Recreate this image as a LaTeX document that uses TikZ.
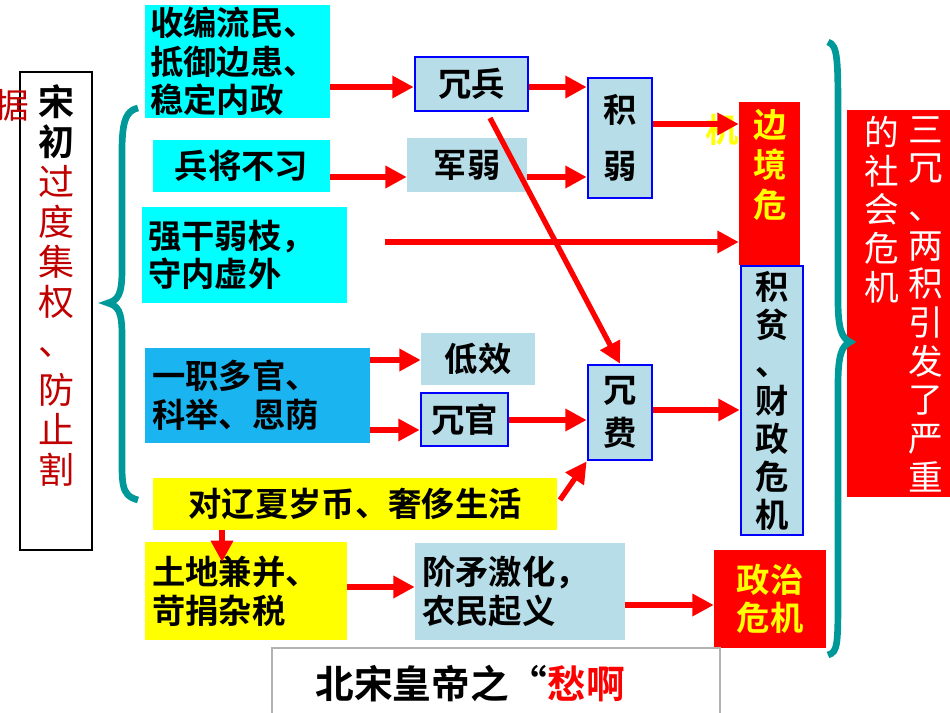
\documentclass[tikz,border=0pt]{standalone}
\usepackage{fontspec}
\setmainfont{Noto Sans CJK SC}[BoldFont={Noto Sans CJK SC Bold}]
\usetikzlibrary{arrows.meta}
\definecolor{cy}{HTML}{00FFFF}
\definecolor{sky}{HTML}{1AB4F0}
\definecolor{lb}{HTML}{B7DDE8}
\definecolor{rd}{HTML}{FF0000}
\definecolor{dr}{HTML}{C00000}
\definecolor{yl}{HTML}{FFFF00}
\definecolor{tl}{HTML}{009999}
\tikzset{
 bx/.style={inner sep=0pt,font=\fontsize{25}{29}\selectfont\bfseries,align=left},
 arr/.style={draw=rd,line width=4pt,-{Triangle[length=16pt,width=16pt]}}
}
\begin{document}
\begin{tikzpicture}[x=0.75pt,y=-0.75pt]
\useasboundingbox (0,0) rectangle (950,713);
\tikzset{box/.style args={#1/#2/#3/#4}{inner sep=0pt,minimum width={(#3-#1)*0.75pt},minimum height={(#4-#2)*0.75pt}}}
% boxes
\node[box=145/5/330/118,fill=cy] (A) at (237.5,61.5) {};
\node[bx,anchor=west] at (150,61.5) {收编流民、\\抵御边患、\\稳定内政};
\node[box=415/57/528/111,fill=lb,draw=blue,line width=2pt] (B) at (471.5,84) {};
\node[bx] at (B) {冗兵};
\node[box=588/78/652/198,fill=lb,draw=blue,line width=2pt] (C) at (620,138) {};
\node[bx,align=center,font=\fontsize{25}{42}\selectfont\bfseries] at (C) {积\\弱};
\node[box=153/140/330/192,fill=cy] (D) at (241.5,166) {};
\node[bx] at (D) {兵将不习};
\node[box=407/138/527/192,fill=lb] (E) at (467,165) {};
\node[bx] at (E) {军弱};
\node[box=142/207/347/303,fill=cy] (F) at (244.5,255) {};
\node[bx,anchor=west] at (148,255) {强干弱枝，\\守内虚外};
\node[box=739/102/800/265,fill=rd] (G) at (769.5,183.5) {};
\node[bx,align=center,text=yl,font=\fontsize{25}{30}\selectfont\bfseries] at (770,165) {边\\境\\危};
\node[bx,text=yl] (G2) at (722,130) {机};
\node[box=741/266/803/535,fill=lb,draw=blue,line width=2pt] (H) at (772,400.5) {};
\node[bx,align=center,font=\fontsize{25}{28.5}\selectfont\bfseries] at (H) {积\\贫\\、\\财\\政\\危\\机};
\node[box=145/348/370/443,fill=sky] (I) at (257.5,395.5) {};
\node[bx,anchor=west] at (152,395.5) {一职多官、\\科举、恩荫};
\node[box=421/333/535/385,fill=lb] (J) at (478,359) {};
\node[bx] at (J) {低效};
\node[box=421/393/508/446,fill=lb,draw=blue,line width=2pt] (K) at (464.5,419.5) {};
\node[bx] at (K) {冗官};
\node[box=588/365/652/460,fill=lb,draw=blue,line width=2pt] (L) at (620,412.5) {};
\node[bx,align=center,font=\fontsize{25}{32}\selectfont\bfseries] at (L) {冗\\费};
\node[box=153/478/557/530,fill=yl] (M) at (355,504) {};
\node[bx] at (M) {对辽夏岁币、奢侈生活};
\node[box=145/542/347/640,fill=yl] (N) at (246,591) {};
\node[bx,anchor=west] at (152,591) {土地兼并、\\苛捐杂税};
\node[box=415/543/625/640,fill=lb] (O) at (520,591.5) {};
\node[bx,anchor=west] at (422,591.5) {阶矛激化，\\农民起义};
\node[box=714/550/826/648,fill=rd] (P) at (770,599) {};
\node[bx,text=yl,align=center] at (P) {政治\\危机};
\node[box=272/648/720/720,fill=white,draw=gray!60,line width=1pt] (Q) at (496,684) {};
\node[bx,font=\fontsize{29}{33}\selectfont\bfseries] at (470,684) {北宋皇帝之“\textcolor{rd}{愁啊}};
\node[box=847/110/950/497,fill=rd] (S) at (898.5,303.5) {};
\node[align=center,text=white,font=\fontsize{26}{29}\selectfont,anchor=north,inner sep=0pt] at (926,116) {三\\冗\\、\\两\\积\\引\\发\\了\\严\\重};
\node[align=center,text=white,font=\fontsize{26}{29}\selectfont,anchor=north,inner sep=0pt] at (882,116) {的\\社\\会\\危\\机};
\node[box=20/72/92/550,draw=black,line width=1.5pt] (T) at (56,311) {};
\node[align=center,font=\fontsize{27}{30}\selectfont\bfseries,anchor=north,inner sep=0pt] at (56,84) {宋\\初\\\textcolor{dr}{\mdseries 过}\\\textcolor{dr}{\mdseries 度}\\\textcolor{dr}{\mdseries 集}\\\textcolor{dr}{\mdseries 权}\\\textcolor{dr}{\mdseries 、}\\[6pt]\textcolor{dr}{\mdseries 防}\\\textcolor{dr}{\mdseries 止}\\\textcolor{dr}{\mdseries 割}};
\node[text=dr,font=\fontsize{26}{30}\selectfont,inner sep=0pt] (U) at (12,105) {据};
% braces
\draw[tl,line width=5pt] (138,108) .. controls (120,112) and (122,135) .. (122,180) -- (122,270) .. controls (122,295) and (118,300) .. (108,303) .. controls (118,306) and (122,311) .. (122,335) -- (122,440) .. controls (122,485) and (120,495) .. (138,500);
\draw[tl,line width=5pt] (828,42) .. controls (838,45) and (838,60) .. (838,120) -- (838,300) .. controls (838,330) and (842,338) .. (850,342) .. controls (842,346) and (838,354) .. (838,385) -- (838,590) .. controls (838,645) and (838,652) .. (828,655);
% arrows
\draw[arr] (A.east|-0,87) -- (B.west|-0,87);
\draw[arr] (B.east|-0,87) -- (C.west|-0,87);
\draw[arr] (C.east|-0,124) -- (G.west|-0,124);
\draw[arr] (D.east|-0,177) -- (E.west|-0,177);
\draw[arr] (E.east|-0,177) -- (C.west|-0,177);
\draw[arr] (385,242) -- (G.west|-0,242);
\draw[arr] (490,118) -- (L.north);
\draw[arr] (I.east|-0,360) -- (J.west|-0,360);
\draw[arr] (I.east|-0,430) -- (K.west|-0,430);
\draw[arr] (K.east|-0,420) -- (L.west|-0,420);
\draw[arr] (560,500) -- (L.south west);
\draw[arr] (L.east|-0,410) -- (H.west|-0,410);
\draw[arr] (222,530) -- (222,562);
\draw[arr] (N.east|-0,587) -- (O.west|-0,587);
\draw[arr] (O.east|-0,605) -- (P.west|-0,605);
\end{tikzpicture}
\end{document}
